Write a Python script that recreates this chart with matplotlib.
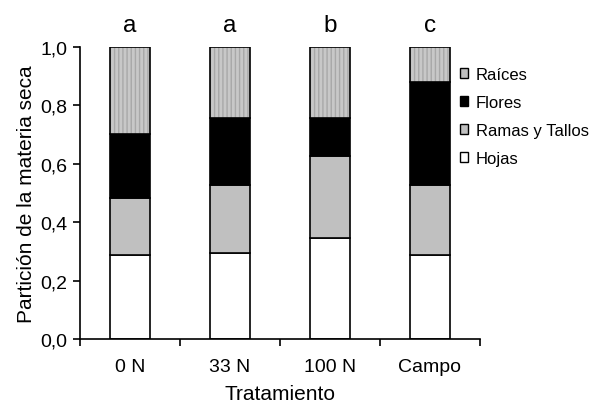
import matplotlib
matplotlib.use("Agg")
import matplotlib.pyplot as plt
from matplotlib.patches import Patch
import numpy as np

categories = ["0 N", "33 N", "100 N", "Campo"]
hojas = [0.288, 0.295, 0.346, 0.288]
ramas = [0.195, 0.232, 0.281, 0.239]
flores = [0.219, 0.230, 0.130, 0.353]
raices = [0.298, 0.243, 0.243, 0.120]
letters = ["a", "a", "b", "c"]

plt.rcParams['font.family'] = ['Liberation Sans', 'DejaVu Sans']

fig = plt.figure(figsize=(6.0, 4.06), dpi=100)
ax = fig.add_axes([80/600, 66/406, 400/600, 292/406])

x = np.arange(len(categories))
w = 0.4
b1 = np.array(hojas)
b2 = b1 + np.array(ramas)
b3 = b2 + np.array(flores)

ax.bar(x, hojas, w, color="white", edgecolor="black", linewidth=1.2)
ax.bar(x, ramas, w, bottom=b1, color="#c0c0c0", edgecolor="black", linewidth=1.2)
ax.bar(x, flores, w, bottom=b2, color="black", edgecolor="black", linewidth=1.2)
ax.bar(x, raices, w, bottom=b3, color="#c8c8c8", edgecolor="#a8a8a8", hatch="||||", linewidth=0)
ax.bar(x, raices, w, bottom=b3, color="none", edgecolor="black", linewidth=1.2)

ax.set_xlim(-0.5, 3.5)
ax.set_ylim(0, 1.0)
ax.spines['top'].set_visible(False)
ax.spines['right'].set_visible(False)
ax.spines['left'].set_linewidth(1.2)
ax.spines['bottom'].set_linewidth(1.2)

ax.set_yticks([0, 0.2, 0.4, 0.6, 0.8, 1.0])
ax.set_yticklabels(["0,0", "0,2", "0,4", "0,6", "0,8", "1,0"], fontsize=14)
ax.set_xticks(x)
ax.set_xticklabels(categories, fontsize=14)
ax.tick_params(axis='x', which='major', length=0, pad=14)
ax.set_xticks([-0.5, 0.5, 1.5, 2.5, 3.5], minor=True)
ax.tick_params(axis='x', which='minor', length=5, width=1.2, direction='out')
ax.tick_params(axis='y', length=5, width=1.2, direction='out', pad=4)

ax.set_ylabel("Partición de la materia seca", fontsize=15, labelpad=3)
ax.set_xlabel("Tratamiento", fontsize=15, labelpad=6)

for xi, l in zip(x, letters):
    ax.text(xi, 1.055, l, ha='center', va='baseline', fontsize=17.5, clip_on=False)

handles = [
    Patch(facecolor="#c0c0c0", edgecolor="black", label="Raíces"),
    Patch(facecolor="black", edgecolor="black", label="Flores"),
    Patch(facecolor="#c0c0c0", edgecolor="black", label="Ramas y Tallos"),
    Patch(facecolor="white", edgecolor="black", label="Hojas"),
]
fig.legend(handles=handles, loc='upper left', bbox_to_anchor=(460/600, 1 - 68/406),
           frameon=False, fontsize=12, handlelength=0.5, handleheight=0.5,
           handletextpad=0.45, labelspacing=0.78, borderaxespad=0, borderpad=0)

fig.savefig("out.png", dpi=100)
